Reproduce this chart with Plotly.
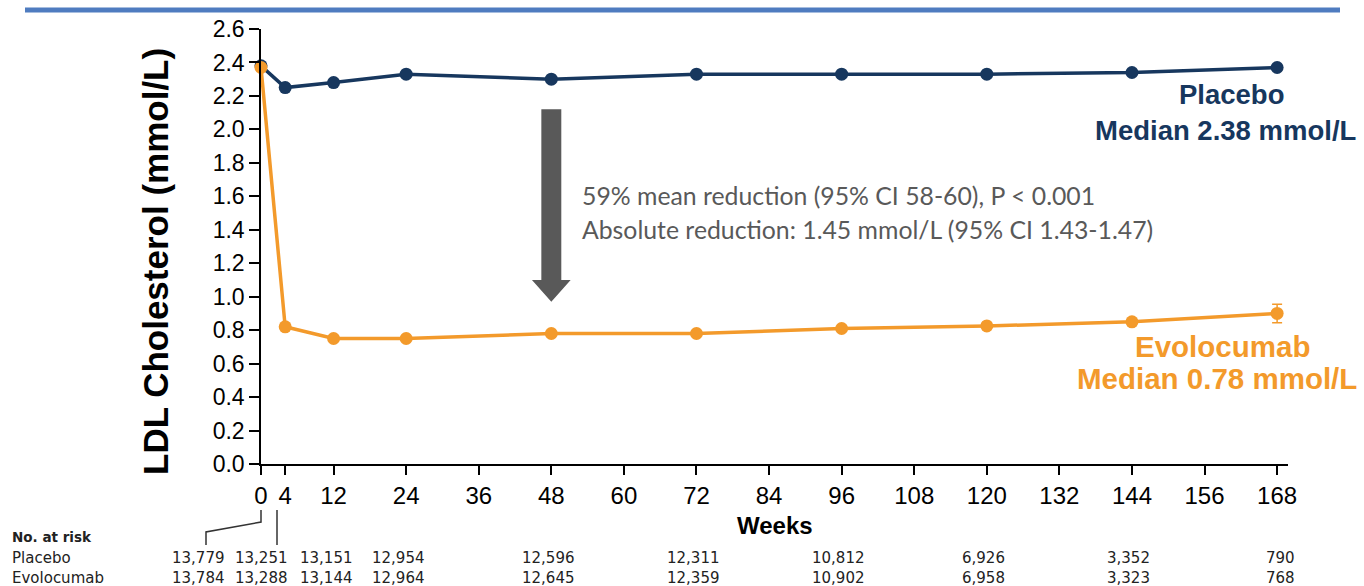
import plotly.graph_objects as go

# LDL cholesterol by visit (weeks)
weeks = [0, 4, 12, 24, 48, 72, 96, 120, 144, 168]
placebo_ldl = [2.38, 2.25, 2.28, 2.33, 2.30, 2.33, 2.33, 2.33, 2.34, 2.37]
evolocumab_ldl = [2.37, 0.82, 0.75, 0.75, 0.78, 0.78, 0.81, 0.825, 0.85, 0.90]
evolocumab_err = [0, 0, 0, 0, 0, 0, 0, 0, 0, 0.055]

x_ticks = [0, 4, 12, 24, 36, 48, 60, 72, 84, 96, 108, 120, 132, 144, 156, 168]
y_ticks = [round(0.2 * i, 1) for i in range(14)]

# Numbers at risk
risk_placebo = ["13,779", "13,251", "13,151", "12,954", "12,596", "12,311",
                "10,812", "6,926", "3,352", "790"]
risk_evolocumab = ["13,784", "13,288", "13,144", "12,964", "12,645", "12,359",
                   "10,902", "6,958", "3,323", "768"]
# column centres of the risk table, in pixels from the left edge
risk_cols_px = [198, 261, 326, 398, 548, 693, 838, 983, 1128, 1280]

NAVY = "#17375E"
ORANGE = "#F39A2B"
GRAY = "#595959"
BLUE = "#4F7CC0"

W, H = 1364, 586
ML, MR, MT, MB = 261, 76, 29, 122
XMAX = 169.8
plot_w = W - ML - MR
plot_h = H - MT - MB


def px(x):
    """Horizontal pixel -> paper fraction."""
    return (x - ML) / plot_w


def py(y):
    """Vertical pixel -> paper fraction."""
    return (H - MB - y) / plot_h


def text_at(x, y, text, font, xanchor="center", **kw):
    return dict(x=px(x), y=py(y), xref="paper", yref="paper", xanchor=xanchor,
                yanchor="middle", showarrow=False, font=font, text=text, **kw)


fig = go.Figure()

fig.add_trace(go.Scatter(
    x=weeks, y=placebo_ldl, mode="lines+markers", name="Placebo",
    line=dict(color=NAVY, width=3.5), marker=dict(color=NAVY, size=13),
    cliponaxis=False, showlegend=False,
))
fig.add_trace(go.Scatter(
    x=weeks, y=evolocumab_ldl, mode="lines+markers", name="Evolocumab",
    line=dict(color=ORANGE, width=3.5), marker=dict(color=ORANGE, size=13),
    error_y=dict(type="data", array=evolocumab_err, visible=True,
                 color=ORANGE, thickness=1.5, width=5),
    cliponaxis=False, showlegend=False,
))

# Downward arrow between the two curves at week 48
ax, top, base, tip = 48, 2.12, 1.10, 0.97
shaft, head = 1.65, 3.2
fig.add_shape(
    type="path", xref="x", yref="y",
    path=(f"M {ax - shaft} {top} L {ax + shaft} {top} L {ax + shaft} {base} "
          f"L {ax + head} {base} L {ax} {tip} L {ax - head} {base} "
          f"L {ax - shaft} {base} Z"),
    fillcolor=GRAY, line=dict(width=0),
)

# Header rule
fig.add_shape(type="line", xref="paper", yref="paper",
              x0=px(25), x1=px(1340), y0=py(10), y1=py(10),
              line=dict(color=BLUE, width=5))

# Brackets joining the first risk columns to weeks 0 and 4
fig.add_shape(type="path", xref="paper", yref="paper",
              path=(f"M {px(206)} {py(545)} L {px(206)} {py(532)} "
                    f"L {px(261)} {py(522)} L {px(261)} {py(510)}"),
              line=dict(color="#333333", width=1.5))
fig.add_shape(type="line", xref="paper", yref="paper",
              x0=px(277), x1=px(277), y0=py(510), y1=py(545),
              line=dict(color="#333333", width=1.5))

ann = []
stat_font = dict(family="Lato", size=24.8, color=GRAY)
ann.append(text_at(580, 195, "59% mean reduction (95% CI 58-60), P < 0.001",
                   stat_font, xanchor="left"))
ann.append(text_at(580, 229, "Absolute reduction: 1.45 mmol/L (95% CI 1.43-1.47)",
                   stat_font, xanchor="left"))

navy_font = dict(family="Liberation Sans", size=27.5, color=NAVY)
ann.append(text_at(1231, 94, "<b>Placebo</b>", navy_font))
ann.append(text_at(1225, 130, "<b>Median 2.38 mmol/L</b>", navy_font))
orange_font = dict(family="Liberation Sans", size=29.5, color=ORANGE)
ann.append(text_at(1222, 346, "<b>Evolocumab</b>", orange_font))
ann.append(text_at(1217, 378, "<b>Median 0.78 mmol/L</b>", orange_font))

ann.append(text_at(775, 525, "<b>Weeks</b>",
                   dict(family="Liberation Sans", size=24, color="black")))

# Risk table
tab_font = dict(family="DejaVu Sans", size=15, color="#222222")
row_head, row_pl, row_ev = 537, 558, 578
ann.append(text_at(10, row_head, "<b>No. at risk</b>", dict(tab_font, size=13.5),
                   xanchor="left"))
ann.append(text_at(10, row_pl, "Placebo", tab_font, xanchor="left"))
ann.append(text_at(10, row_ev, "Evolocumab", tab_font, xanchor="left"))
for cx, p, e in zip(risk_cols_px, risk_placebo, risk_evolocumab):
    ann.append(text_at(cx, row_pl, p, tab_font))
    ann.append(text_at(cx, row_ev, e, tab_font))

# Rotated y-axis title
ann.append(text_at(155, 262, "<b>LDL Cholesterol (mmol/L)</b>",
                   dict(family="Liberation Sans", size=35, color="black"),
                   textangle=-90))

fig.update_layout(
    width=W, height=H,
    margin=dict(l=ML, r=MR, t=MT, b=MB, pad=0),
    paper_bgcolor="white", plot_bgcolor="white",
    annotations=ann,
    xaxis=dict(range=[0, XMAX], tickvals=x_ticks, ticktext=[str(t) for t in x_ticks],
               showline=True, linecolor="black", linewidth=1.5,
               ticks="outside", ticklen=9, tickwidth=1.5, tickcolor="black",
               showgrid=False, zeroline=False,
               tickfont=dict(family="Liberation Sans", size=24, color="black")),
    yaxis=dict(range=[0, 2.6], tickvals=y_ticks, ticktext=[f"{v:.1f}" for v in y_ticks],
               showline=True, linecolor="black", linewidth=1.5,
               ticks="outside", ticklen=10, tickwidth=1.5, tickcolor="black",
               showgrid=False, zeroline=False,
               tickfont=dict(family="Liberation Sans", size=23, color="black")),
)

fig.write_html("out.html")
